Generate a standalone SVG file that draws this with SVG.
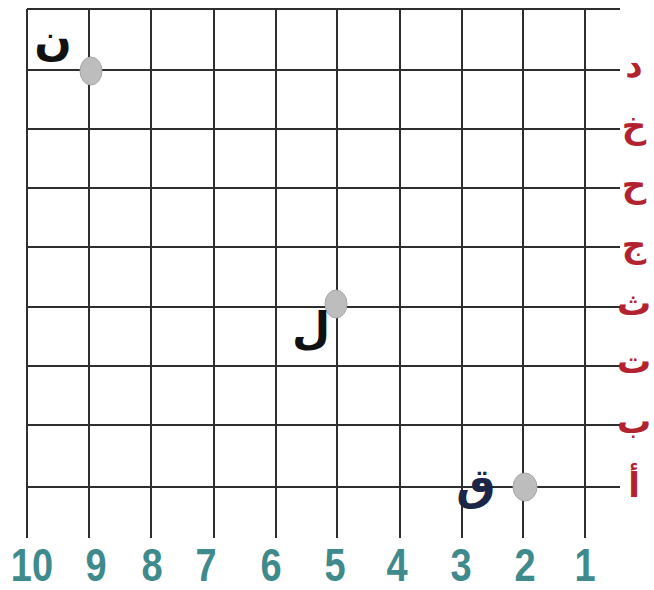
<svg xmlns="http://www.w3.org/2000/svg" width="654" height="590" viewBox="0 0 654 590">
<style>
.g line{stroke:#2e2e2e;stroke-width:2}
.row{font-family:"DejaVu Sans",sans-serif;font-weight:bold;font-size:34px;fill:#b3222f;text-anchor:middle}
.col{font-family:"Liberation Sans",Arial,sans-serif;font-weight:bold;font-size:38px;fill:#3f8a8c;text-anchor:middle}
.pt{fill:#bdbdbd;stroke:#a8a8a8;stroke-width:1}
.pl{font-family:"DejaVu Sans",sans-serif;font-weight:bold;font-size:44px;text-anchor:middle}
</style>
<rect width="654" height="590" fill="#ffffff"/>
<g id="grid" class="g">
<line x1="27" y1="9" x2="620" y2="9"/>
<line x1="27" y1="70" x2="620" y2="70"/>
<line x1="27" y1="129" x2="620" y2="129"/>
<line x1="27" y1="188" x2="620" y2="188"/>
<line x1="27" y1="247" x2="620" y2="247"/>
<line x1="27" y1="307" x2="620" y2="307"/>
<line x1="27" y1="366" x2="620" y2="366"/>
<line x1="27" y1="425" x2="620" y2="425"/>
<line x1="27" y1="487" x2="620" y2="487"/>
<line x1="27" y1="9" x2="27" y2="538"/>
<line x1="89" y1="9" x2="89" y2="538"/>
<line x1="151" y1="9" x2="151" y2="538"/>
<line x1="214" y1="9" x2="214" y2="538"/>
<line x1="276" y1="9" x2="276" y2="538"/>
<line x1="337" y1="9" x2="337" y2="538"/>
<line x1="400" y1="9" x2="400" y2="538"/>
<line x1="462" y1="9" x2="462" y2="538"/>
<line x1="523" y1="9" x2="523" y2="538"/>
<line x1="585" y1="9" x2="585" y2="538"/>
</g>
<g id="row-labels">
<text class="row" x="634" y="77">د</text>
<text class="row" x="634" y="138">خ</text>
<text class="row" x="634" y="197">ح</text>
<text class="row" x="634" y="257">ج</text>
<text class="row" x="634" y="315">ث</text>
<text class="row" x="634" y="373">ت</text>
<text class="row" x="634" y="433">ب</text>
<text class="row" x="634" y="497">أ</text>
</g>
<g id="col-labels">
<g transform="translate(0,581) scale(1,1.2)">
<text class="col" x="32" y="0">10</text>
<text class="col" x="96" y="0">9</text>
<text class="col" x="152" y="0">8</text>
<text class="col" x="206" y="0">7</text>
<text class="col" x="271" y="0">6</text>
<text class="col" x="335" y="0">5</text>
<text class="col" x="397" y="0">4</text>
<text class="col" x="461" y="0">3</text>
<text class="col" x="525" y="0">2</text>
<text class="col" x="585" y="0">1</text>
</g>
</g>
<g id="point-n">
<ellipse class="pt" cx="91" cy="71" rx="11" ry="14"/>
<text class="pl" x="53" y="55" fill="#111111">ن</text>
</g>
<g id="point-l">
<ellipse class="pt" cx="336" cy="304" rx="11" ry="14"/>
<text class="pl" x="311" y="343" fill="#111111">ل</text>
</g>
<g id="point-q">
<ellipse class="pt" cx="525" cy="487" rx="12" ry="14"/>
<text class="pl" x="476" y="500" fill="#1c2747">ق</text>
</g>
</svg>
